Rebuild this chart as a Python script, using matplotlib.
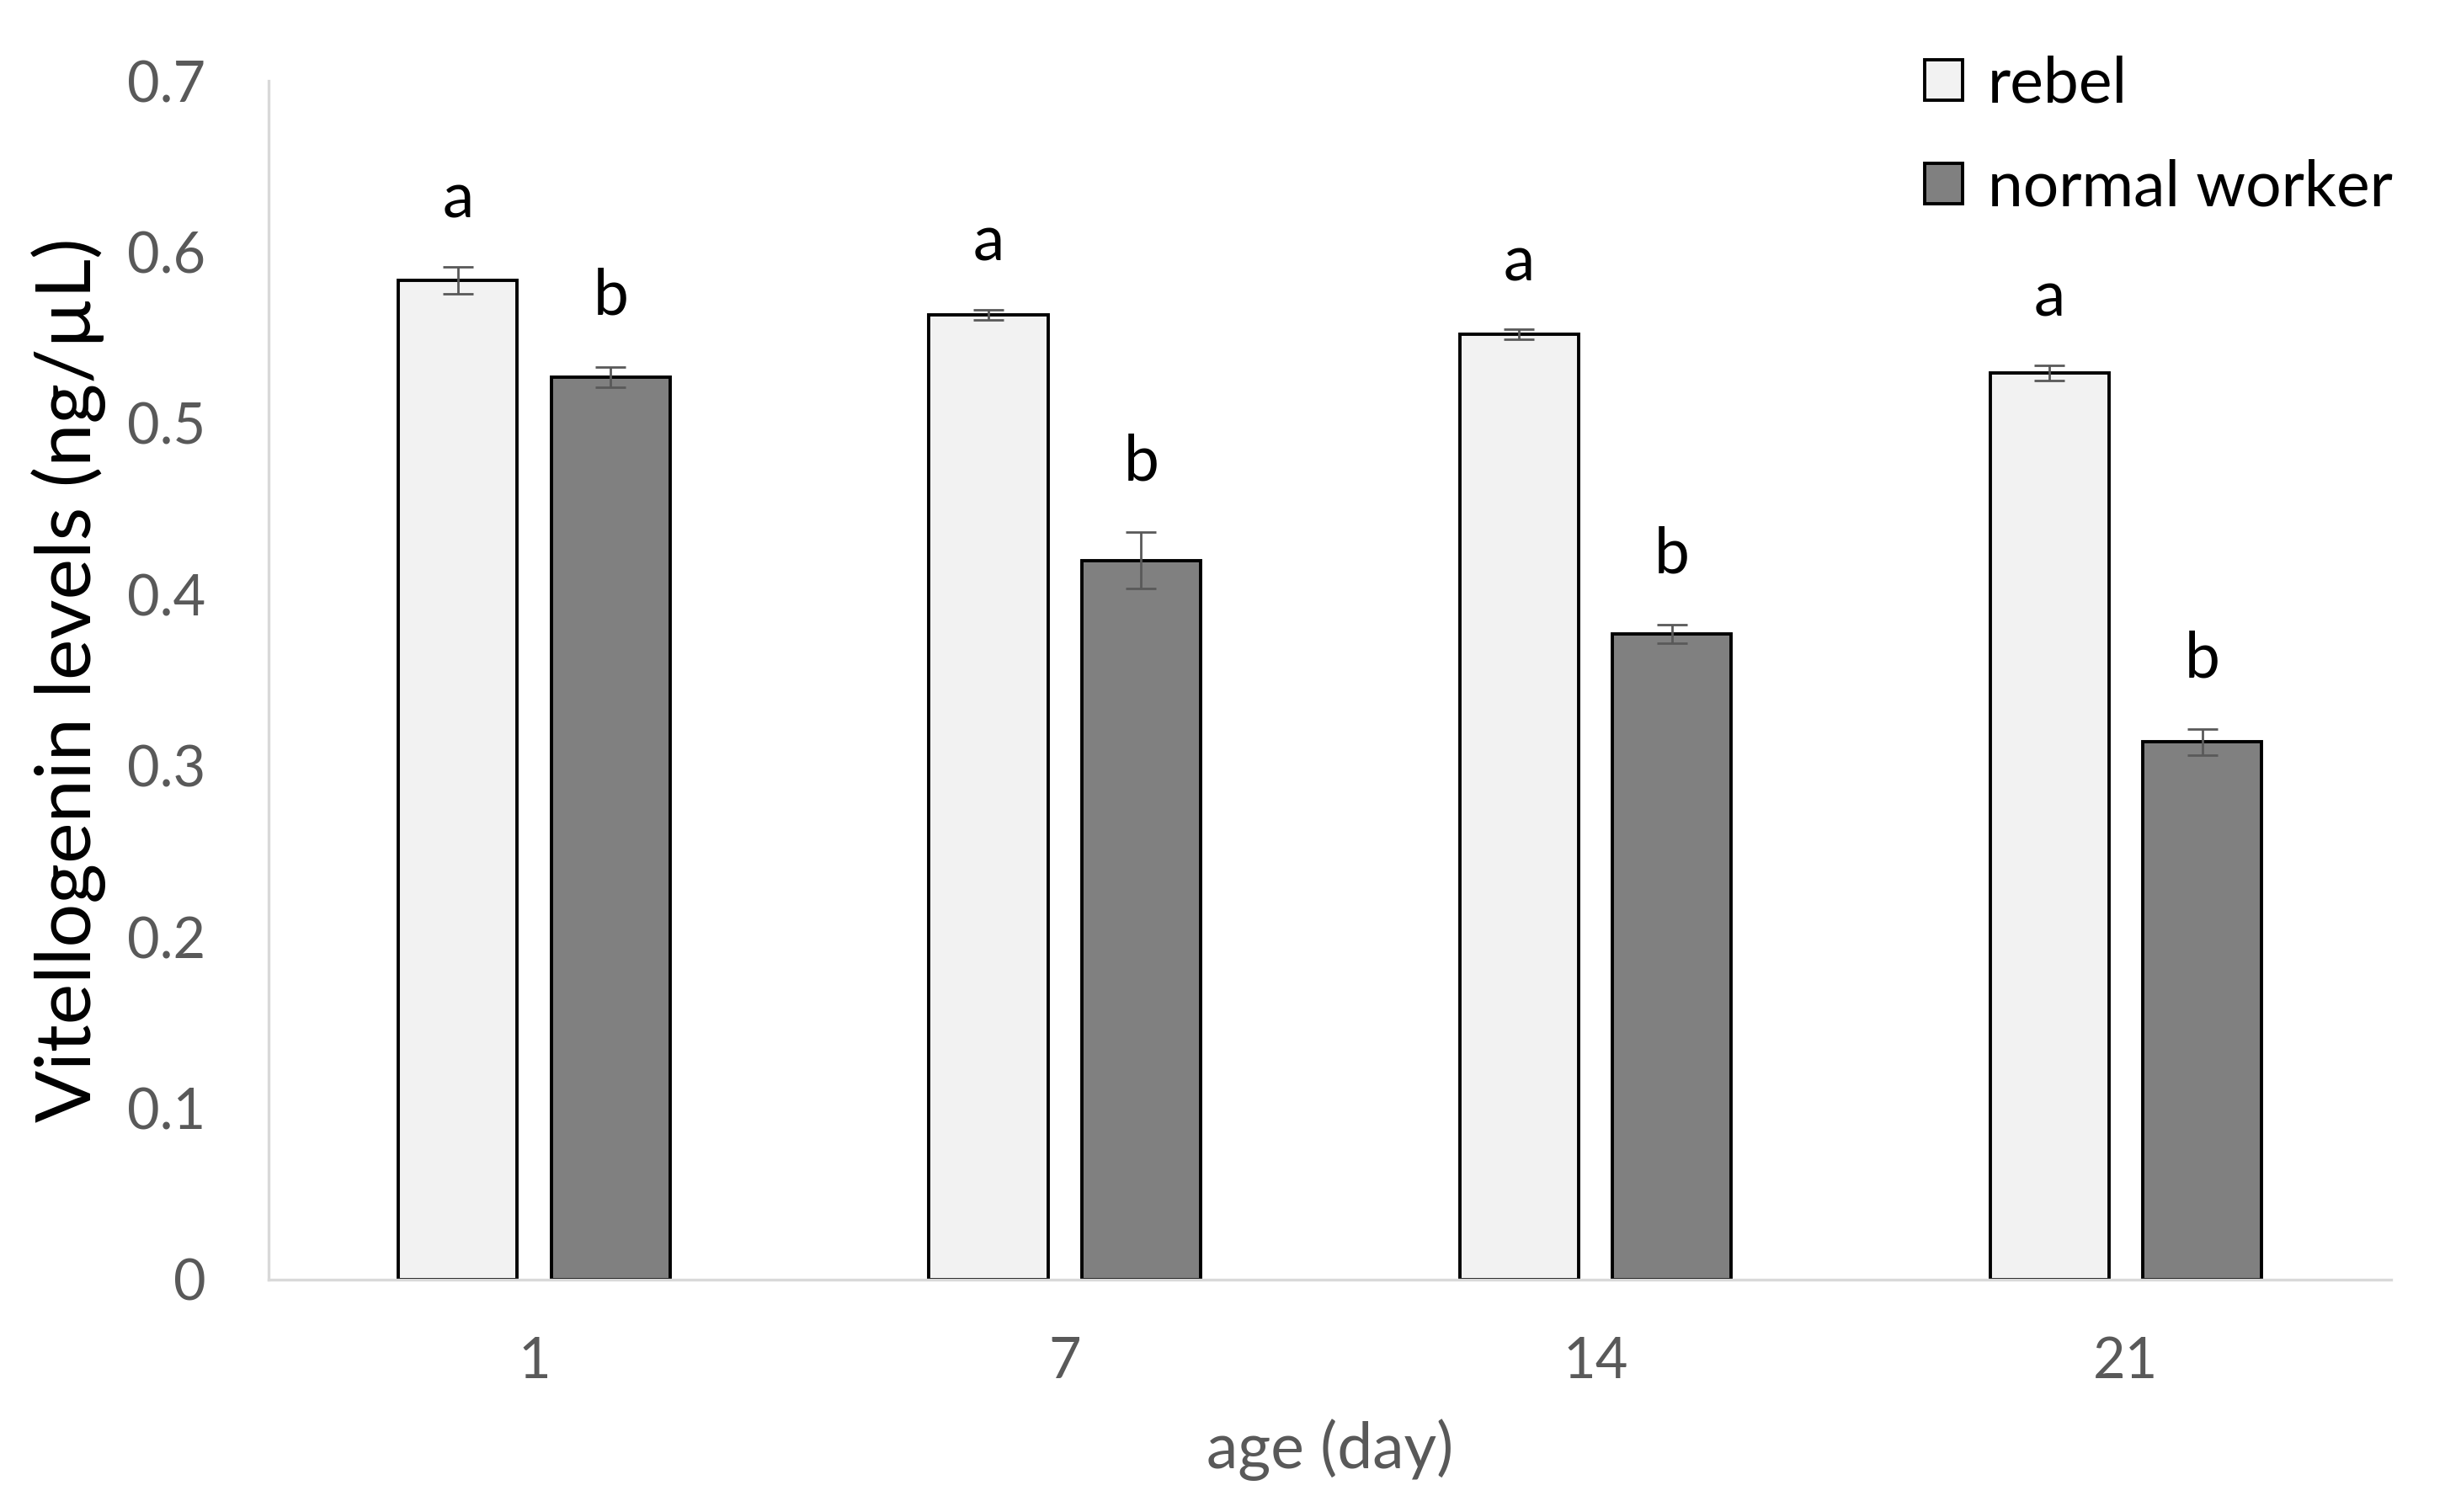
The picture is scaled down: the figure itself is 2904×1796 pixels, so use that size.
# Vitellogenin levels, rebel vs normal worker, by age
import numpy as np
import matplotlib.pyplot as plt

days = ["1", "7", "14", "21"]
rebel = [0.5835, 0.5635, 0.552, 0.5295]
rebel_err = [0.008, 0.003, 0.003, 0.0045]
normal = [0.527, 0.420, 0.377, 0.314]
normal_err = [0.006, 0.0165, 0.0055, 0.0075]
rebel_letters = ["a", "a", "a", "a"]
normal_letters = ["b", "b", "b", "b"]

plt.rcParams['font.family'] = ['Lato', 'DejaVu Sans']

fig = plt.figure(figsize=(14.52, 8.98), dpi=200)
ax = fig.add_axes([0.110, 0.1537, 0.868, 0.7928])

x = np.arange(len(days))
w = 0.224
off = 0.144
gray = "#595959"

ax.bar(x - off, rebel, w, color="#f2f2f2", edgecolor="black", linewidth=1.4,
       label="rebel", zorder=2)
ax.bar(x + off, normal, w, color="#808080", edgecolor="black", linewidth=1.4,
       label="normal worker", zorder=2)
ax.errorbar(x - off, rebel, yerr=rebel_err, fmt="none", ecolor=gray,
            elinewidth=1.0, capsize=6.5, capthick=1.0, zorder=3)
ax.errorbar(x + off, normal, yerr=normal_err, fmt="none", ecolor=gray,
            elinewidth=1.0, capsize=6.5, capthick=1.0, zorder=3)

for i in range(len(days)):
    ax.text(x[i] - off, rebel[i] + rebel_err[i] + 0.039, rebel_letters[i],
            ha="center", va="center", fontsize=27)
    ax.text(x[i] + off, normal[i] + normal_err[i] + 0.041, normal_letters[i],
            ha="center", va="center", fontsize=27)

ax.set_xlim(-0.5, 3.5)
ax.set_ylim(0, 0.7)
ax.set_yticks(np.arange(0, 0.71, 0.1))
ax.set_yticklabels(["0", "0.1", "0.2", "0.3", "0.4", "0.5", "0.6", "0.7"])
ax.set_xticks(x)
ax.set_xticklabels(days)
ax.tick_params(axis="both", length=0, labelsize=24, labelcolor=gray)
ax.tick_params(axis="y", pad=27)
ax.tick_params(axis="x", pad=24)

for s in ["top", "right"]:
    ax.spines[s].set_visible(False)
for s in ["left", "bottom"]:
    ax.spines[s].set_color("#d9d9d9")
    ax.spines[s].set_linewidth(1.2)

ax.set_xlabel("age (day)", fontsize=27, color=gray, labelpad=13)
ax.set_ylabel("Vitellogenin levels (ng/µL)", fontsize=33, color="black", labelpad=9)

ax.legend(loc="upper left", bbox_to_anchor=(0.764, 1.001), bbox_transform=fig.transFigure,
          frameon=False, fontsize=27, handlelength=0.6, handleheight=0.6,
          handletextpad=0.4, labelspacing=0.72)

fig.savefig("out.png", dpi=200)
